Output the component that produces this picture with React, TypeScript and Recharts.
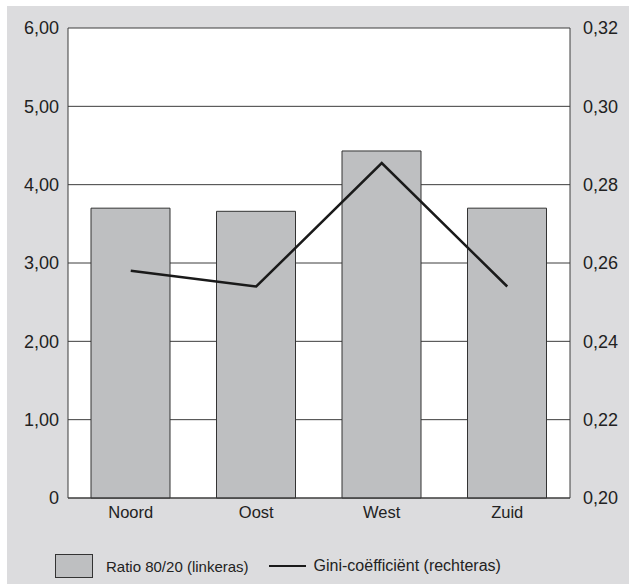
import { ComposedChart, Bar, Line, XAxis, YAxis, CartesianGrid } from "recharts";

const regions = ["Noord", "Oost", "West", "Zuid"];
const ratio8020 = [3.7, 3.66, 4.43, 3.7];
const gini = [0.258, 0.254, 0.2855, 0.254];
const leftTicks = [0, 1, 2, 3, 4, 5, 6];
const rightTicks = [0.2, 0.22, 0.24, 0.26, 0.28, 0.3, 0.32];

const data = regions.map((name, i) => ({ name, ratio: ratio8020[i], gini: gini[i] }));

const font = "'Liberation Sans', Arial, sans-serif";
const panel = "#dcdcde";
const barFill = "#bebfc1";
const ink = "#222";
const gridInk = "#3c3c3c";

const fmt = (v: number) => (v === 0 ? "0" : v.toFixed(2).replace(".", ","));

export default function App() {
  return (
    <div
      style={{
        position: "absolute",
        left: 7,
        top: 6,
        width: 622,
        height: 578,
        background: panel,
        fontFamily: font,
      }}
    >
      <ComposedChart
        width={622}
        height={578}
        data={data}
        margin={{ top: 22, right: 0, bottom: 56, left: 0 }}
      >
        <CartesianGrid
          yAxisId="left"
          vertical={false}
          stroke={gridInk}
          strokeWidth={1}
          fill="#fff"
          fillOpacity={1}
        />
        <XAxis
          dataKey="name"
          tickLine={false}
          axisLine={{ stroke: gridInk }}
          tick={{ fontSize: 16.5, fill: ink, fontFamily: font }}
          height={30}
        />
        <YAxis
          yAxisId="left"
          domain={[0, 6]}
          ticks={leftTicks}
          tickFormatter={fmt}
          tickLine={false}
          axisLine={{ stroke: gridInk }}
          tickMargin={3}
          tick={{ fontSize: 18, fill: ink, fontFamily: font }}
          width={61}
          interval={0}
        />
        <YAxis
          yAxisId="right"
          orientation="right"
          domain={[0.2, 0.32]}
          ticks={rightTicks}
          tickFormatter={fmt}
          tickLine={false}
          axisLine={{ stroke: gridInk }}
          tickMargin={7}
          tick={{ fontSize: 18, fill: ink, fontFamily: font, textAnchor: "start" }}
          width={59}
          interval={0}
        />
        <Bar
          yAxisId="left"
          dataKey="ratio"
          fill={barFill}
          stroke="#333"
          strokeWidth={1}
          barSize={79}
          isAnimationActive={false}
        />
        <Line
          yAxisId="right"
          dataKey="gini"
          type="linear"
          stroke="#1a1a1a"
          strokeWidth={2.5}
          dot={false}
          activeDot={false}
          isAnimationActive={false}
        />
      </ComposedChart>
      <div
        style={{
          position: "absolute",
          top: 548,
          left: 48,
          display: "flex",
          alignItems: "center",
          fontSize: 15,
          color: ink,
          whiteSpace: "nowrap",
        }}
      >
        <span
          style={{
            display: "inline-block",
            width: 36,
            height: 22,
            background: barFill,
            border: "1px solid #333",
            marginRight: 13,
          }}
        />
        <span>Ratio 80/20 (linkeras)</span>
        <span
          style={{
            display: "inline-block",
            width: 37,
            height: 2.5,
            background: "#1a1a1a",
            marginLeft: 20,
            marginRight: 8,
          }}
        />
        <span style={{ fontSize: 16 }}>Gini-coëfficiënt (rechteras)</span>
      </div>
    </div>
  );
}
